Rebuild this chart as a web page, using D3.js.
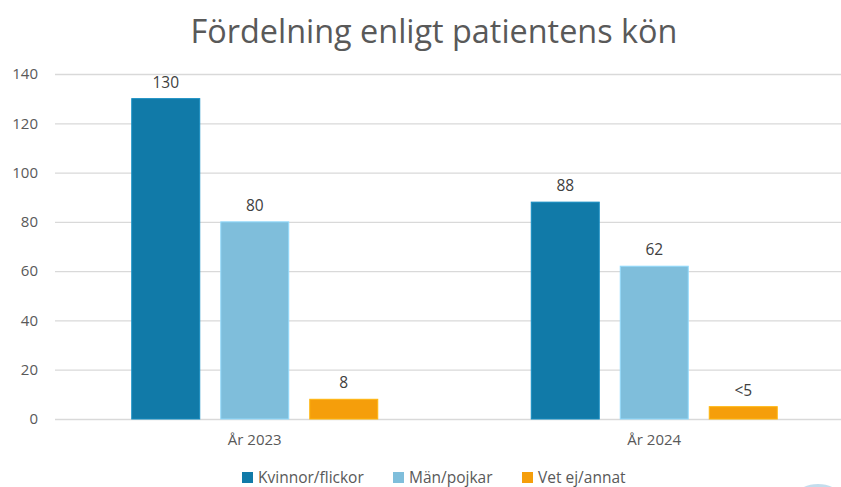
<!DOCTYPE html>
<html>
<head>
<meta charset="utf-8">
<script src="https://cdn.jsdelivr.net/npm/d3@7"></script>
<style>
  body { margin: 0; background: #fff; }
  svg { font-family: "Open Sans", "Noto Sans", sans-serif; }
</style>
</head>
<body>
<script>
// chart data
var years = ["År 2023", "År 2024"];
var series = ["Kvinnor/flickor", "Män/pojkar", "Vet ej/annat"];
var values2023 = [130, 80, 8];
var values2024 = [88, 62, 5];
var labels2023 = ["130", "80", "8"];
var labels2024 = ["88", "62", "<5"];
var yTicks = [0, 20, 40, 60, 80, 100, 120, 140];
var colors = ["#117aa8", "#7fbedb", "#f59e0b"];

var width = 841, height = 487;
var plotLeft = 55, plotRight = 854, plotTop = 74, plotBottom = 419;

var svg = d3.select("body").append("svg")
    .attr("width", width).attr("height", height);

var x = d3.scaleBand().domain(years).range([plotLeft, plotRight]);
var y = d3.scaleLinear().domain([0, 140]).range([plotBottom, plotTop]);

// grid
svg.append("g").selectAll("line")
    .data(yTicks)
    .enter().append("line")
    .attr("x1", plotLeft).attr("x2", width)
    .attr("y1", function(d){ return y(d) + 0.5; })
    .attr("y2", function(d){ return y(d) + 0.5; })
    .attr("stroke", "#d9d9d9").attr("stroke-width", 1.3);

// y tick labels
svg.append("g").selectAll("text")
    .data(yTicks)
    .enter().append("text")
    .attr("x", 38)
    .attr("y", function(d){ return y(d); })
    .attr("dy", "0.35em")
    .attr("text-anchor", "end")
    .attr("font-size", 15)
    .attr("fill", "#595959")
    .text(function(d){ return d; });

var bw = x.bandwidth();
var inner = d3.scaleBand().domain(series)
    .range([(bw - 246) / 2, (bw + 246) / 2])
    .paddingInner(0.236);

var rows = [];
years.forEach(function(yr, i){
    var vals = i === 0 ? values2023 : values2024;
    var labs = i === 0 ? labels2023 : labels2024;
    series.forEach(function(s, j){
        rows.push({ year: yr, s: s, v: vals[j], label: labs[j], c: colors[j] });
    });
});

var bars = svg.append("g").selectAll("g")
    .data(rows)
    .enter().append("g");

bars.append("rect")
    .attr("x", function(d){ return x(d.year) + inner(d.s); })
    .attr("y", function(d){ return y(d.v); })
    .attr("width", inner.bandwidth())
    .attr("height", function(d){ return plotBottom - y(d.v); })
    .attr("fill", function(d){ return d.c; })
    .attr("stroke", function(d){ return d3.color(d.c).brighter(0.4); })
    .attr("stroke-width", 1);

bars.append("text")
    .attr("x", function(d){ return x(d.year) + inner(d.s) + inner.bandwidth() / 2; })
    .attr("y", function(d){ return y(d.v) - 11; })
    .attr("text-anchor", "middle")
    .attr("font-size", 15.5)
    .attr("fill", "#404040")
    .text(function(d){ return d.label; });

// category labels
svg.append("g").selectAll("text")
    .data(years)
    .enter().append("text")
    .attr("x", function(d){ return x(d) + bw / 2; })
    .attr("y", 445)
    .attr("text-anchor", "middle")
    .attr("font-size", 15)
    .attr("fill", "#595959")
    .text(function(d){ return d; });

// title
svg.append("text")
    .attr("x", 434).attr("y", 43)
    .attr("text-anchor", "middle")
    .attr("font-size", 32.4)
    .attr("fill", "#595959")
    .text("Fördelning enligt patientens kön");

// legend
var legendX = [242, 393, 522];
var lg = svg.append("g").selectAll("g")
    .data(series)
    .enter().append("g")
    .attr("transform", function(d, i){ return "translate(" + legendX[i] + ",472)"; });
lg.append("rect")
    .attr("width", 11).attr("height", 11)
    .attr("fill", function(d, i){ return colors[i]; });
lg.append("text")
    .attr("x", 16).attr("y", 11)
    .attr("font-size", 15.5)
    .attr("fill", "#595959")
    .text(function(d){ return d; });

// cropped logo fragment in the corner
svg.append("ellipse")
    .attr("cx", 818).attr("cy", 494)
    .attr("rx", 20).attr("ry", 10)
    .attr("fill", "#a9cfe6").attr("opacity", 0.7);
</script>
</body>
</html>
